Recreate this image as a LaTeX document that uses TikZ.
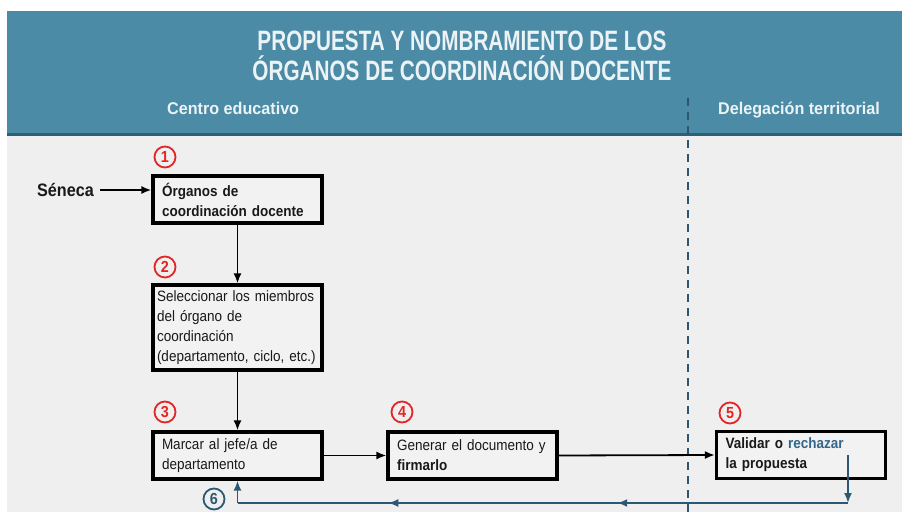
\documentclass[tikz,border=0pt]{standalone}
\usepackage{fontspec}
\setmainfont[FakeStretch=0.9]{Liberation Sans}
\newfontfamily\titlefont[FakeStretch=0.74]{Liberation Sans}
\newfontfamily\subfont[FakeStretch=0.95]{Liberation Sans}
\usetikzlibrary{arrows.meta,decorations.markings}
\definecolor{headteal}{RGB}{75,139,165}
\definecolor{headline}{RGB}{45,95,120}
\definecolor{bggray}{RGB}{239,239,239}
\definecolor{boxgray}{RGB}{242,242,242}
\definecolor{headtext}{RGB}{236,243,246}
\definecolor{numred}{RGB}{226,38,38}
\definecolor{retblue}{RGB}{44,88,115}
\definecolor{rejblue}{RGB}{52,102,138}
\definecolor{dashblue}{RGB}{45,85,110}
\definecolor{txt}{RGB}{25,25,25}
\tikzset{
  stepbox/.style={draw=black, line width=3.2pt, fill=boxgray, minimum width=169pt,
    minimum height=47pt, inner xsep=9pt, inner ysep=4pt, text width=151pt, align=left,
    text=txt, font=\fontsize{15}{20}\selectfont},
  numc/.style={circle, draw=numred, line width=1.8pt, minimum size=21pt, inner sep=0pt,
    text=numred, font=\bfseries\fontsize{16}{16}\selectfont},
  numb/.style={numc, draw=retblue, text=retblue},
  arr/.style={draw=black, line width=1.8pt, -{Latex[length=10pt,width=8pt]}},
  retarr/.style={draw=retblue, line width=1.8pt, -{Latex[length=10pt,width=8pt]}},
  retline/.style={draw=retblue, line width=1.8pt, postaction={decorate},
    decoration={markings,
      mark=at position 0.378 with {\arrow{Latex[length=10pt,width=8pt]}},
      mark=at position 0.753 with {\arrow{Latex[length=10pt,width=8pt]}}}},
  headtitle/.style={text=headtext, anchor=base, inner sep=0pt,
    font=\titlefont\bfseries\fontsize{28}{30}\selectfont},
  headsub/.style={text=headtext, anchor=base west, inner sep=0pt,
    font=\subfont\bfseries\fontsize{17}{20}\selectfont},
}
\begin{document}
\begin{tikzpicture}[x=1pt,y=-1pt]
\useasboundingbox (0,0) rectangle (902,518);
\fill[white] (0,0) rectangle (902,518);
% backgrounds
\fill[bggray] (7,133) rectangle (902,512);
\fill[headteal] (7,11) rectangle (902,134);
\fill[headline] (7,133) rectangle (902,136.5);
% header texts
\node[headtitle] (t1) at (462,51) {PROPUESTA Y NOMBRAMIENTO DE LOS};
\node[headtitle] (t2) at (462,81) {ÓRGANOS DE COORDINACIÓN DOCENTE};
\node[headsub] (s1) at (167,115) {Centro educativo};
\node[headsub] (s2) at (718,115) {Delegación territorial};
% dashed divider
\coordinate (d0) at (688,98);
\coordinate (d1) at (688,518);
\draw[dashblue, line width=1.8pt, dash pattern=on 8pt off 6pt] (d0) -- (d1);
% boxes
\node[stepbox] (b1) at (237.5,199.5) {\bfseries Órganos de\\coordinación docente};
\node[stepbox, minimum height=85pt, inner xsep=4pt, text width=161pt] (b2) at (237.5,327.5) {Seleccionar los miembros\\del órgano de\\coordinación\\(departamento, ciclo, etc.)};
\node[stepbox] (b3) at (237.5,455.5) {Marcar al jefe/a de\\departamento};
\node[stepbox] (b4) at (472.5,455.5) {Generar el documento y\\\textbf{firmarlo}};
\node[stepbox, minimum width=168pt] (b5) at (801,455) {\bfseries Validar o \textcolor{rejblue}{rechazar}\\la propuesta};
% numbers
\node[numc] (n1) at (165,157) {1};
\node[numc] (n2) at (165,267) {2};
\node[numc] (n3) at (165,412) {3};
\node[numc] (n4) at (402,412) {4};
\node[numc] (n5) at (730,413) {5};
\node[numb] (n6) at (214,499) {6};
% Séneca
\node[anchor=east, inner sep=0pt, text=txt, font=\bfseries\fontsize{18}{20}\selectfont] (sen) at (94,190) {Séneca};
\draw[arr] ([xshift=6pt]sen.east) -- (sen.east -| b1.west);
% flow arrows
\draw[arr] (b1.south) -- (b2.north);
\draw[arr] (b2.south) -- (b3.north);
\draw[arr] (b3.east) -- (b4.west);
\draw[arr] (b4.east) -- (b5.west);
% return path
\coordinate (r0) at (848,455);
\coordinate (r1) at (848,503);
\coordinate (r2) at (237.5,503);
\draw[retarr] (r0) -- (r1);
\draw[retline] (r1) -- (r2);
\draw[retarr] (r2) -- (b3.south);
\end{tikzpicture}
\end{document}
